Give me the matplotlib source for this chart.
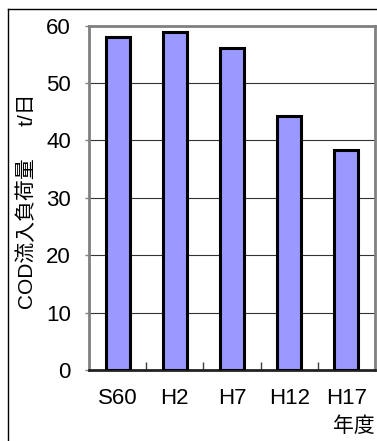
import matplotlib
matplotlib.use("Agg")
import matplotlib.pyplot as plt
from matplotlib.lines import Line2D

plt.rcParams['font.family'] = ['Liberation Sans', 'Noto Sans CJK JP']

# 年度別 COD流入負荷量 (t/日)
years = ["S60", "H2", "H7", "H12", "H17"]
cod_load = [58.0, 58.9, 56.1, 44.2, 38.3]
y_ticks = [0, 10, 20, 30, 40, 50, 60]

W, H = 377, 441
fig = plt.figure(figsize=(W / 100, H / 100), dpi=100)
ax = fig.add_axes([89 / W, 1 - 370 / H, (375 - 89) / W, (370 - 25.5) / H])

x = list(range(len(years)))
ax.bar(x, cod_load, width=0.42, color="#9999FF", edgecolor="black",
       linewidth=2.2, zorder=3)

ax.set_xlim(-0.5, len(years) - 0.5)
ax.set_ylim(0, 60)
ax.set_yticks(y_ticks)
ax.set_yticklabels([str(v) for v in y_ticks], fontsize=16)
ax.set_xticks(x)
ax.set_xticklabels(years, fontsize=16)
ax.tick_params(axis="x", length=0, pad=13)
ax.tick_params(axis="y", length=3, width=1, color="#808080", pad=10)

# 区切り目盛 (内向き)
ax.set_xticks([i + 0.5 for i in x[:-1]], minor=True)
ax.tick_params(axis="x", which="minor", direction="in", length=6, width=1,
               color="#404040")

for v in y_ticks[1:-1]:
    ax.axhline(v, color="#333333", linewidth=0.8, zorder=1)

for side in ("left", "top", "right"):
    ax.spines[side].set_color("#808080")
    ax.spines[side].set_linewidth(2)
ax.spines["bottom"].set_color("#222222")
ax.spines["bottom"].set_linewidth(2)

fig.text(27 / W, 1 - 201 / H, "COD流入負荷量　  t/日", rotation=90,
         ha="center", va="center", fontsize=15)
fig.text(333 / W, 1 - 426 / H, "年度", ha="left", va="center", fontsize=15)

# 外枠
fig.add_artist(Line2D([8 / W, 8 / W], [0, 1 - 9 / H], color="black",
                      linewidth=1, transform=fig.transFigure))
fig.add_artist(Line2D([8 / W, 1], [1 - 9 / H, 1 - 9 / H], color="black",
                      linewidth=1, transform=fig.transFigure))

fig.savefig("out.png", dpi=100)
